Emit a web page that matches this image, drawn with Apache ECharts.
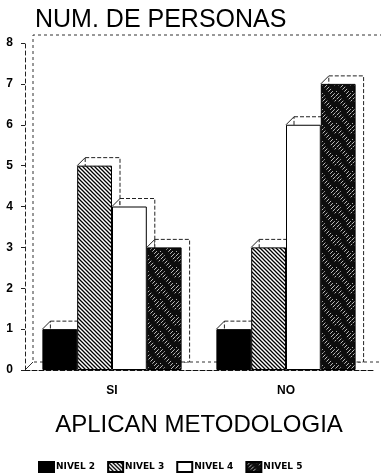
<!DOCTYPE html>
<html>
<head>
<meta charset="utf-8">
<script src="https://cdn.jsdelivr.net/npm/echarts@6/dist/echarts.min.js"></script>
<style>
  html, body { margin: 0; padding: 0; background: #fff; }
  #chart { width: 381px; height: 473px; }
</style>
</head>
<body>
<div id="chart"></div>
<script>
// Respondents per level, split by whether they apply a methodology
const categories = ['SI', 'NO'];
const seriesNames = ['NIVEL 2', 'NIVEL 3', 'NIVEL 4', 'NIVEL 5'];
const nivel2 = [1, 1];
const nivel3 = [5, 3];
const nivel4 = [4, 6];
const nivel5 = [3, 7];
const yTicks = [0, 1, 2, 3, 4, 5, 6, 7, 8];

const seriesValues = [nivel2, nivel3, nivel4, nivel5];

// depth offset of the pseudo-3D shadows and back wall
const DX = 8, DY = -8;
const CATEGORY_GAP = 0.2;

function makePattern(size, draw) {
  const c = document.createElement('canvas');
  c.width = size; c.height = size;
  draw(c.getContext('2d'), size);
  return { image: c, repeat: 'repeat' };
}

// fine "\" hatching
const hatchLight = makePattern(4, (ctx, s) => {
  ctx.fillStyle = '#fff'; ctx.fillRect(0, 0, s, s);
  ctx.strokeStyle = '#000'; ctx.lineWidth = 1.3;
  ctx.beginPath();
  ctx.moveTo(-1, -1); ctx.lineTo(s + 1, s + 1);
  ctx.moveTo(-1, s - 1); ctx.lineTo(1, s + 1);
  ctx.moveTo(s - 1, -1); ctx.lineTo(s + 1, 1);
  ctx.stroke();
});

// dark fill with sparse broken "/" strokes
const hatchDark = makePattern(16, (ctx, s) => {
  ctx.fillStyle = '#0d0d0d'; ctx.fillRect(0, 0, s, s);
  ctx.strokeStyle = '#e8e8e8'; ctx.lineWidth = 0.8;
  ctx.setLineDash([4, 5]);
  for (let k = -s; k <= s; k += 4) {
    ctx.lineDashOffset = (k * 3) % 9;
    ctx.beginPath(); ctx.moveTo(k, s); ctx.lineTo(k + s, 0); ctx.stroke();
  }
});

const fills = ['#000', hatchLight, '#fff', hatchDark];

function barGeom(api, cat, si, val) {
  const band = api.size([1, 0])[0];
  const barW = band * (1 - CATEGORY_GAP) / seriesNames.length;
  const top = api.coord([cat, val]);
  const base = api.coord([cat, 0]);
  const x = top[0] - barW * seriesNames.length / 2 + si * barW;
  return { x: x, y: top[1], w: barW, base: base[1] };
}

const shadowData = [];
categories.forEach((c, ci) => {
  seriesValues.forEach((vals, si) => shadowData.push([ci, vals[ci], si]));
});

const chart = echarts.init(document.getElementById('chart'));

const option = {
  animation: false,
  backgroundColor: '#fff',
  title: {
    text: 'NUM. DE PERSONAS',
    left: 30,
    top: 3,
    textStyle: { fontFamily: 'Liberation Sans', fontSize: 25, fontWeight: 'normal', color: '#000' }
  },
  legend: {
    data: seriesNames,
    left: 33,
    top: 456,
    icon: 'rect',
    itemWidth: 15,
    itemHeight: 10,
    itemGap: 12,
    textStyle: { fontFamily: 'DejaVu Sans', fontWeight: 'bold', fontSize: 9, color: '#000', padding: [0, 0, 0, -3] }
  },
  grid: { left: 25, right: 8, top: 43, bottom: 103 },
  xAxis: {
    type: 'category',
    data: categories,
    name: 'APLICAN METODOLOGIA',
    nameLocation: 'middle',
    nameGap: 43,
    nameTextStyle: { fontFamily: 'Liberation Sans', fontSize: 24, color: '#000' },
    axisLine: { lineStyle: { color: '#111', width: 1, type: [5, 2] } },
    axisTick: { alignWithLabel: true, length: 5, lineStyle: { color: '#111' } },
    axisLabel: { fontFamily: 'Liberation Sans', fontWeight: 'bold', fontSize: 12, color: '#000', margin: 15 }
  },
  yAxis: {
    type: 'value',
    min: yTicks[0],
    max: yTicks[yTicks.length - 1],
    interval: 1,
    axisLine: { show: true, lineStyle: { color: '#222', width: 1, type: [4, 3] } },
    axisTick: { show: true, length: 4, lineStyle: { color: '#222' } },
    splitLine: { show: false },
    axisLabel: { fontFamily: 'Liberation Sans', fontWeight: 'bold', fontSize: 12, color: '#000', margin: 12 }
  },
  series: [
    {
      // back wall of the pseudo-3D plot box (its right side runs past the canvas edge)
      type: 'custom',
      name: 'wall',
      z: 0,
      silent: true,
      data: [[0, 0]],
      renderItem: function (params, api) {
        const band = api.size([1, 0])[0];
        const x0 = api.coord([0, 0])[0] - band / 2;
        const x1 = api.coord([categories.length - 1, 0])[0] + band / 2;
        const y0 = api.coord([0, yTicks[0]])[1];
        const y1 = api.coord([0, yTicks[yTicks.length - 1]])[1];
        const xr = x1 + DX + 20;
        return {
          type: 'group',
          children: [
            { type: 'polyline', shape: { points: [[xr, y1 + DY], [x0 + DX, y1 + DY], [x0 + DX, y0 + DY], [xr, y0 + DY]] },
              style: { stroke: '#333', lineWidth: 1, lineDash: [3, 3], fill: null } },
            { type: 'line', shape: { x1: x0, y1: y0, x2: x0 + DX, y2: y0 + DY }, style: { stroke: '#333', lineWidth: 1 } }
          ]
        };
      }
    },
    {
      // depth shadows behind each bar
      type: 'custom',
      name: 'shadow',
      z: 1,
      silent: true,
      encode: { x: 0, y: 1 },
      data: shadowData,
      renderItem: function (params, api) {
        const g = barGeom(api, api.value(0), api.value(2), api.value(1));
        return {
          type: 'group',
          children: [
            { type: 'rect', shape: { x: g.x + DX, y: g.y + DY, width: g.w, height: g.base - g.y },
              style: { fill: '#fff', stroke: '#222', lineWidth: 1, lineDash: [4, 2] } },
            { type: 'line', shape: { x1: g.x, y1: g.y, x2: g.x + DX, y2: g.y + DY },
              style: { stroke: '#222', lineWidth: 1 } }
          ]
        };
      }
    }
  ].concat(seriesNames.map((name, i) => ({
    type: 'bar',
    name: name,
    z: 2,
    data: seriesValues[i],
    barGap: '0%',
    barCategoryGap: (CATEGORY_GAP * 100) + '%',
    itemStyle: { color: fills[i], borderColor: '#000', borderWidth: 1 }
  })))
};

chart.setOption(option);
</script>
</body>
</html>
